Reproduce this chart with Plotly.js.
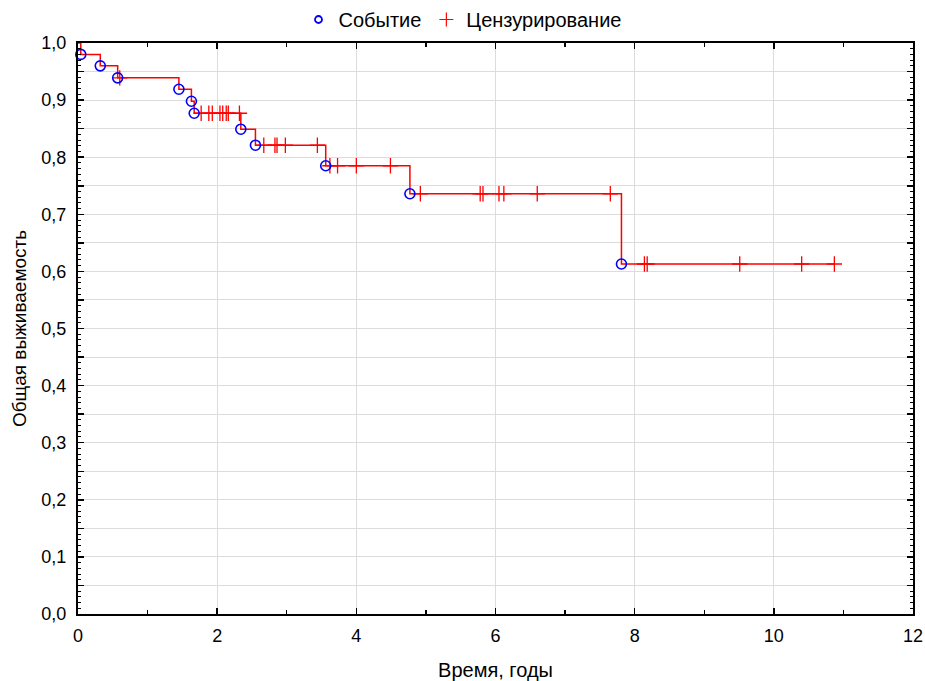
<!DOCTYPE html>
<html>
<head>
<meta charset="utf-8">
<script src="https://cdn.plot.ly/plotly-3.0.1.min.js"></script>
<style>html,body{margin:0;padding:0;background:#fff;}#chart{width:925px;height:681px;}</style>
</head>
<body>
<div id="chart"></div>
<script>
// Events (deaths): time in years and survival probability after the event
var eventTimes = [0.04, 0.32, 0.57, 1.45, 1.63, 1.67, 2.34, 2.55, 3.56, 4.77, 7.81];
var eventSurv  = [0.980, 0.960, 0.939, 0.919, 0.898, 0.877, 0.849, 0.821, 0.785, 0.736, 0.613];

// Censored observations
var censorTimes = [0.60,
  1.77, 1.88, 1.93, 2.04, 2.08, 2.13, 2.16, 2.32,
  2.67, 2.83, 2.86, 2.98, 3.44,
  3.62, 3.73, 4.00, 4.49,
  4.92, 5.78, 5.82, 6.05, 6.12, 6.60, 7.65,
  8.14, 8.18, 9.51, 10.40, 10.87];
var censorSurv = [0.939,
  0.877, 0.877, 0.877, 0.877, 0.877, 0.877, 0.877, 0.877,
  0.821, 0.821, 0.821, 0.821, 0.821,
  0.785, 0.785, 0.785, 0.785,
  0.736, 0.736, 0.736, 0.736, 0.736, 0.736, 0.736,
  0.613, 0.613, 0.613, 0.613, 0.613];

var yTickVals = [0, 0.05, 0.1, 0.15, 0.2, 0.25, 0.3, 0.35, 0.4, 0.45, 0.5, 0.55, 0.6, 0.65, 0.7, 0.75, 0.8, 0.85, 0.9, 0.95, 1.0];
var yTickText = ["0,0", "", "0,1", "", "0,2", "", "0,3", "", "0,4", "", "0,5", "", "0,6", "", "0,7", "", "0,8", "", "0,9", "", "1,0"];

var legendEvent = "Событие";
var legendCensor = "Цензурирование";
var xTitle = "Время, годы";
var yTitle = "Общая выживаемость";

// Step curve built from the data
var stepX = [0].concat(eventTimes).concat([censorTimes[censorTimes.length - 1]]);
var stepY = [1].concat(eventSurv).concat([eventSurv[eventSurv.length - 1]]);

var font = "Liberation Sans, Arial, sans-serif";

var traces = [
  {x: stepX, y: stepY, type: 'scatter', mode: 'lines', line: {shape: 'hv', color: '#ff0000', width: 1.5},
   showlegend: false, hoverinfo: 'skip', cliponaxis: false},
  {x: censorTimes, y: censorSurv, type: 'scatter', mode: 'markers', showlegend: false,
   marker: {symbol: 'cross-thin', size: 11, color: '#ff0000', line: {color: '#ff0000', width: 1.3}}, cliponaxis: false},
  {x: eventTimes, y: eventSurv, type: 'scatter', mode: 'markers', showlegend: false,
   marker: {symbol: 'circle-open', size: 10, color: '#0000ff', line: {color: '#0000ff', width: 1.6}}, cliponaxis: false},
  // legend-only entries (smaller symbols, as in the reference legend)
  {x: [null], y: [null], type: 'scatter', mode: 'markers', name: legendEvent, legendrank: 1,
   marker: {symbol: 'circle-open', size: 7, color: '#0000ff', line: {color: '#0000ff', width: 1.8}}},
  {x: [null], y: [null], type: 'scatter', mode: 'markers', name: legendCensor, legendrank: 2,
   marker: {symbol: 'cross-thin', size: 10, color: '#ff0000', line: {color: '#ff0000', width: 1.2}}}
];

var layout = {
  width: 925, height: 681,
  margin: {l: 78, r: 12, t: 43, b: 67},
  paper_bgcolor: '#ffffff', plot_bgcolor: '#ffffff',
  font: {family: font, size: 18, color: '#000000'},
  separators: ', ',
  showlegend: true,
  legend: {orientation: 'h', xref: 'container', yref: 'container', x: 0.5, xanchor: 'center', y: 1.0, yanchor: 'top',
           font: {family: font, size: 20, color: '#000'}, itemwidth: 30, bgcolor: 'rgba(0,0,0,0)'},
  xaxis: {
    range: [0, 12], tickmode: 'linear', tick0: 0, dtick: 2,
    ticks: 'inside', ticklen: 6, tickwidth: 1.5, tickcolor: '#000',
    showline: true, linecolor: '#000', linewidth: 2, mirror: 'ticks',
    showgrid: true, gridcolor: '#dcdcdc', gridwidth: 1, zeroline: false,
    tickfont: {family: font, size: 18, color: '#000'}, ticklabelstandoff: 4,
    minor: {dtick: 1, ticks: 'inside', ticklen: 4, tickcolor: '#000', tickwidth: 1.2, showgrid: false},
    title: {text: xTitle, font: {family: font, size: 20, color: '#000'}, standoff: 19}
  },
  yaxis: {
    range: [0, 1], tickmode: 'array', tickvals: yTickVals, ticktext: yTickText,
    ticks: 'inside', ticklen: 6, tickwidth: 1.5, tickcolor: '#000',
    showline: true, linecolor: '#000', linewidth: 2, mirror: 'ticks',
    showgrid: true, gridcolor: '#dcdcdc', gridwidth: 1, zeroline: false,
    tickfont: {family: font, size: 18, color: '#000'}, ticklabelstandoff: 6,
    minor: {dtick: 0.01, tick0: 0, ticks: 'inside', ticklen: 3, tickcolor: '#000', tickwidth: 1, showgrid: false},
    title: {text: yTitle, font: {family: font, size: 19, color: '#000'}, standoff: 10}
  }
};

Plotly.newPlot('chart', traces, layout, {displayModeBar: false, staticPlot: true});
</script>
</body>
</html>
